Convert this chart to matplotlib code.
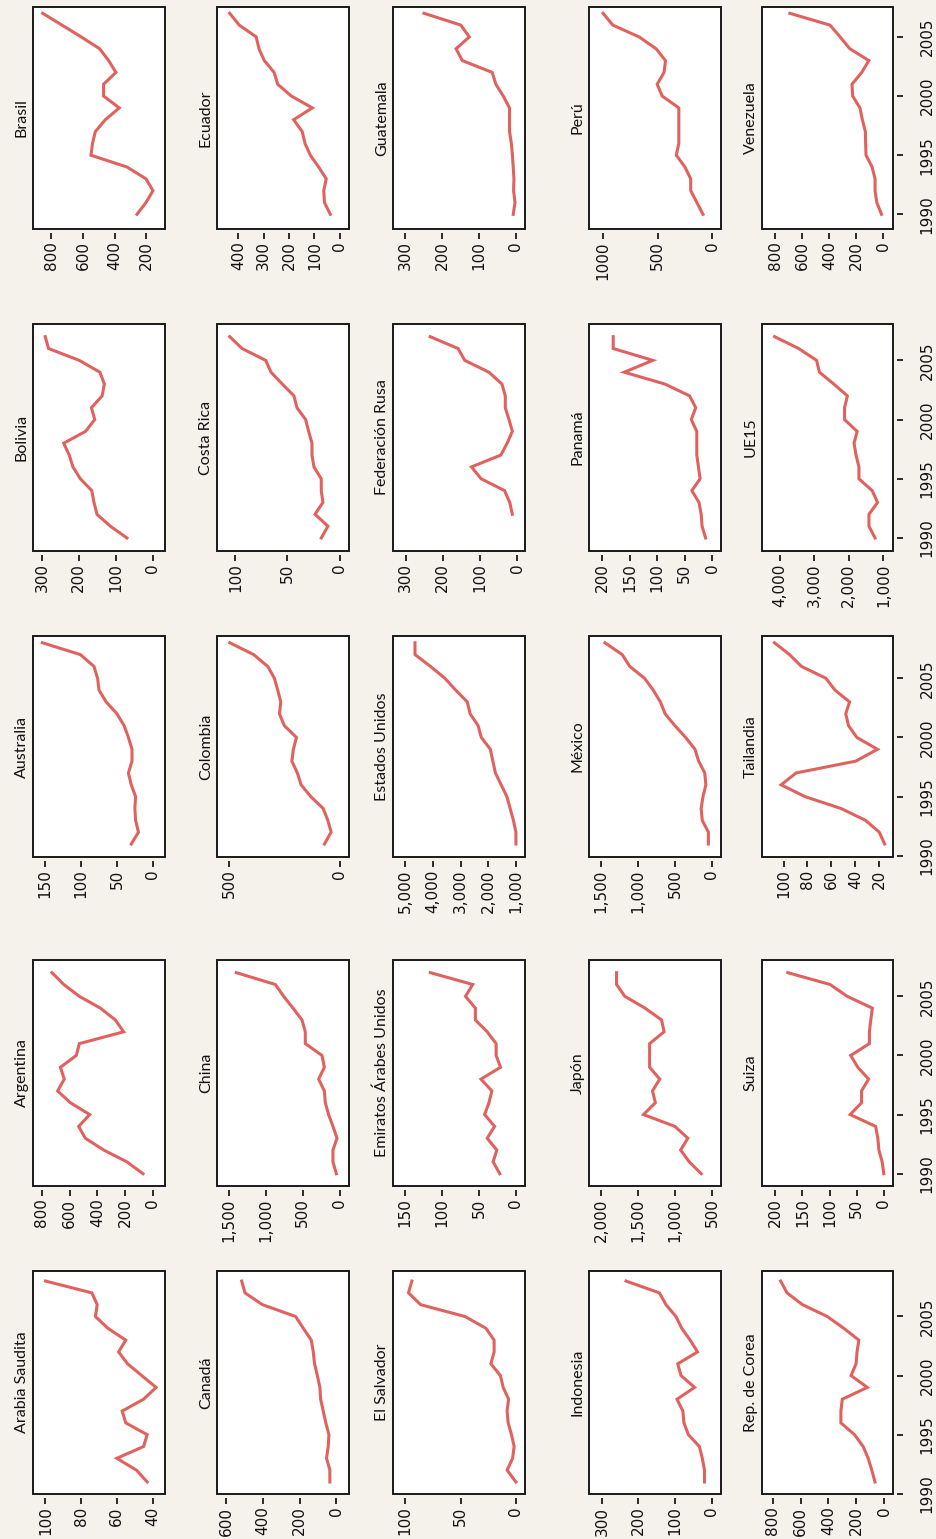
import matplotlib
matplotlib.use("Agg")
import matplotlib.pyplot as plt
from matplotlib.patches import Rectangle
from matplotlib.ticker import FuncFormatter

# years
anios_90 = [1990, 1991, 1992, 1993, 1994, 1995, 1996, 1997, 1998,
            1999, 2000, 2001, 2002, 2003, 2004, 2005, 2006, 2007]
anios_91 = [1991, 1992, 1993, 1994, 1995, 1996, 1997, 1998, 1999,
            2000, 2001, 2002, 2003, 2004, 2005, 2006, 2007, 2008]
anios_92 = [1992, 1993, 1994, 1995, 1996, 1997, 1998, 1999,
            2000, 2001, 2002, 2003, 2004, 2005, 2006, 2007]

# values
arabia_saudita = [43, 49, 60, 45, 43, 55, 57, 45, 38, 46, 54, 59, 55, 65, 72, 71, 74, 100]
argentina = [70, 186, 354, 487, 535, 455, 595, 687, 639, 667, 552, 530, 210, 270, 378, 530, 643, 728]
australia = [30, 20, 24, 25, 24, 30, 34, 29, 29, 34, 40, 50, 65, 75, 77, 82, 101, 154]
bolivia = [70, 115, 151, 159, 165, 196, 216, 226, 241, 182, 157, 166, 137, 131, 143, 199, 282, 291]
brasil = [259, 202, 158, 202, 322, 550, 540, 522, 459, 371, 470, 470, 392, 438, 495, 611, 733, 855]

canada = [36, 36, 54, 45, 41, 58, 72, 86, 90, 104, 119, 126, 137, 180, 222, 402, 497, 515]
china = [45, 91, 91, 36, 91, 150, 195, 208, 285, 208, 240, 467, 467, 512, 634, 761, 874, 1405]
colombia = [69, 39, 54, 75, 131, 175, 192, 217, 210, 196, 251, 273, 267, 281, 296, 326, 390, 498]
costa_rica = [17.6, 11.2, 23.6, 16, 17.6, 17.6, 24.6, 26.5, 26.5, 29.7, 32.6, 40.9, 43.8, 55, 65.8, 70.9, 93.6, 105.4]
ecuador = [37, 60, 63, 53, 83, 116, 137, 148, 182, 108, 191, 245, 259, 298, 319, 330, 397, 435]

el_salvador = [0, 8, 3, 1.6, 4, 7, 8, 6.6, 11.5, 14, 22.6, 19.7, 19.7, 27, 46, 86, 97, 94]
emiratos = [22, 31, 26, 39, 29, 42.5, 36.6, 32.7, 47.4, 21, 26.9, 26.9, 39, 55, 55, 68.4, 58.6, 116]
estados_unidos = [1000, 1000, 1091, 1209, 1326, 1534, 1742, 1834, 1925, 2251, 2368, 2655, 2759, 3176, 3567, 4088, 4648, 4648]
federacion_rusa = [13, 20, 34, 97, 123, 44, 27, 13, 22, 32, 32, 41, 76, 141, 159, 234]
guatemala = [7, 2, 6, 5, 7, 9, 12, 17, 17, 17, 34, 54, 64, 145, 162, 126, 149, 249]

indonesia = [20, 20, 26, 34, 64, 76, 79, 95, 47, 84, 93, 39, 59, 82, 98, 125, 143, 234]
japon = [646, 808, 925, 827, 1003, 1428, 1267, 1306, 1208, 1345, 1345, 1345, 1149, 1183, 1407, 1681, 1793, 1793]
mexico = [49, 49, 132, 147, 122, 83, 98, 181, 230, 357, 503, 635, 699, 796, 914, 1114, 1216, 1451]
panama = [12, 18.5, 20, 24, 37, 22, 25, 28, 28, 28, 38, 30, 41, 86, 160, 108, 180, 180]
peru = [86, 142, 198, 198, 251, 330, 307, 307, 307, 307, 459, 505, 442, 429, 515, 670, 911, 1000]

rep_corea = [65, 88, 114, 150, 212, 310, 310, 300, 120, 237, 201, 194, 181, 289, 408, 586, 697, 743]
suiza = [0, 3, 9, 11, 15, 62, 41, 41, 28, 48, 61, 26.5, 26.5, 24, 21, 67.5, 99, 177]
tailandia = [15.5, 20, 31.5, 52, 82, 102, 89.5, 39.6, 21.5, 38.7, 45.7, 48, 44.8, 57, 64.6, 85, 95, 107.6]
ue15 = [1240, 1417, 1417, 1167, 1323, 1708, 1708, 1792, 1850, 1760, 2125, 2125, 2042, 2438, 2854, 2938, 3458, 4156]
venezuela = [13, 48, 61, 61, 83, 128, 131, 133, 155, 173, 227, 232, 160, 107, 248, 320, 395, 693]

paises = ["Arabia Saudita", "Argentina", "Australia", "Bolivia", "Brasil",
          "Canadá", "China", "Colombia", "Costa Rica", "Ecuador",
          "El Salvador", "Emiratos Árabes Unidos", "Estados Unidos", "Federación Rusa", "Guatemala",
          "Indonesia", "Japón", "México", "Panamá", "Perú",
          "Rep. de Corea", "Suiza", "Tailandia", "UE15", "Venezuela"]

series = [arabia_saudita, argentina, australia, bolivia, brasil,
          canada, china, colombia, costa_rica, ecuador,
          el_salvador, emiratos, estados_unidos, federacion_rusa, guatemala,
          indonesia, japon, mexico, panama, peru,
          rep_corea, suiza, tailandia, ue15, venezuela]

marcas = [[40, 60, 80, 100], [0, 200, 400, 600, 800], [0, 50, 100, 150], [0, 100, 200, 300], [200, 400, 600, 800],
          [0, 200, 400, 600], [0, 500, 1000, 1500], [0, 500], [0, 50, 100], [0, 100, 200, 300, 400],
          [0, 50, 100], [0, 50, 100, 150], [1000, 2000, 3000, 4000, 5000], [0, 100, 200, 300], [0, 100, 200, 300],
          [0, 100, 200, 300], [500, 1000, 1500, 2000], [0, 500, 1000, 1500], [0, 50, 100, 150, 200], [0, 500, 1000],
          [0, 200, 400, 600, 800], [0, 50, 100, 150, 200], [20, 40, 60, 80, 100], [1000, 2000, 3000, 4000], [0, 200, 400, 600, 800]]

# value axis range of each panel (upper, lower)
rangos = [(107, 33), (865, -89), (167, -17), (324, -33), (916, 82),
          (649, -68), (1667, -127), (556, -42), (117.6, -9), (485, -37),
          (111, -8.2), (166.6, -12.2), (5443, 672), (334, -21), (333, -25),
          (335, -25), (2166, 378), (1666, -122), (224, -16), (1129, -79),
          (877, -64.5), (224.5, -17), (118, 8.5), (4521, 719), (899, -72)]

# pixel layout of the rotated grid
W, H = 937, 1539
cols_px = [(33, 165), (217, 349), (393, 525), (589, 721), (762, 893)]
rows_px = [(7, 229), (324, 551), (636, 857), (960, 1186), (1271, 1494)]
year_lims = [(1988.76, 2007.53), (1988.9, 2008.07), (1989.9, 2008.57), (1988.96, 2008.07), (1989.98, 2008.85)]

BG = "#f5f2ec"
LINE = "#e0625e"
EDGE = "#1a1a1a"
TICKFONT = ["Liberation Sans Narrow", "DejaVu Sans"]
TITLEFONT = ["Lato", "DejaVu Sans"]

fig = plt.figure(figsize=(W / 100, H / 100), dpi=100, facecolor=BG)

for c in range(5):
    for r in range(5):
        idx = c * 5 + (4 - r)
        x0, x1 = cols_px[c]
        y0, y1 = rows_px[r]
        ax = fig.add_axes([x0 / W, 1 - y1 / H, (x1 - x0) / W, (y1 - y0) / H])
        ax.set_facecolor("white")
        vals = series[idx]
        if len(vals) == 16:
            yrs = anios_92
        elif r in (2, 4):
            yrs = anios_91
        else:
            yrs = anios_90
        ax.plot(vals, yrs, color=LINE, lw=2.2, solid_joinstyle="miter")
        ax.set_xlim(*rangos[idx])
        ax.set_ylim(*year_lims[r])

        for s in ax.spines.values():
            s.set_visible(False)
        ax.spines["bottom"].set_position(("outward", 3))
        ax.spines["right"].set_position(("outward", 3))
        ax.add_patch(Rectangle((0, 0), 1, 1, transform=ax.transAxes, fill=False,
                               ec=EDGE, lw=1.4, clip_on=False, zorder=5))

        ax.set_xticks(marcas[idx])
        if paises[idx] == "Perú":
            ax.xaxis.set_major_formatter(FuncFormatter(lambda v, p: f"{v:.0f}"))
        else:
            ax.xaxis.set_major_formatter(FuncFormatter(lambda v, p: f"{v:,.0f}"))
        ax.tick_params(axis="x", direction="out", length=4, width=1.3, color=EDGE,
                       labelrotation=90, pad=2, labelsize=11, labelcolor="#111111")
        for lab in ax.get_xticklabels():
            lab.set_family(TICKFONT)

        ax.yaxis.tick_right()
        if c == 4:
            ax.set_yticks([1990, 1995, 2000, 2005])
            ax.tick_params(axis="y", direction="out", length=4, width=1.3, color=EDGE,
                           labelrotation=90, pad=12, labelsize=11, labelcolor="#111111")
            for lab in ax.get_yticklabels():
                lab.set_family(TICKFONT)
                lab.set_verticalalignment("center")
        else:
            ax.set_yticks([])

        ax.text(-0.085, 0.5, paises[idx], transform=ax.transAxes, rotation=90,
                ha="center", va="center", fontsize=11.5, family=TITLEFONT,
                color="#111111")

fig.savefig("out.png", dpi=100, facecolor=BG)
